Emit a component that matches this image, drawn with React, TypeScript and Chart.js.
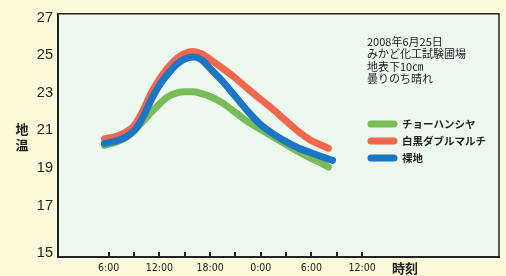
import { useEffect, useRef } from "react";
import { Chart, registerables } from "chart.js";
Chart.register(...registerables);

// ---- data ----
const hours = [5.5, 7, 8, 9, 10, 11, 12, 13, 14, 15, 16, 17, 18, 19.5, 21, 22.5, 24, 25.5, 27, 28.5, 30, 31, 32];
const blueHours = [5.5, 7, 8, 9, 10, 11, 12, 13, 14, 15, 16, 17, 18, 19.5, 21, 22.5, 24, 25.5, 27, 28.5, 30, 31.5, 32.5];
const seriesLabels = ["チョーハンシヤ", "白黒ダブルマルチ", "裸地"];
const greenValues = [20.2, 20.4, 20.62, 20.97, 21.45, 21.95, 22.4, 22.78, 22.98, 23.05, 23.05, 22.95, 22.8, 22.45, 21.95, 21.45, 21.05, 20.65, 20.25, 19.85, 19.5, 19.3, 19.05];
const redValues = [20.55, 20.7, 20.9, 21.25, 22.0, 22.95, 23.72, 24.33, 24.8, 25.1, 25.2, 25.08, 24.78, 24.3, 23.78, 23.2, 22.65, 22.1, 21.5, 20.93, 20.45, 20.25, 20.05];
const blueValues = [20.3, 20.45, 20.64, 20.98, 21.65, 22.6, 23.4, 24.0, 24.5, 24.8, 24.9, 24.75, 24.3, 23.6, 22.8, 22.0, 21.3, 20.8, 20.4, 20.05, 19.8, 19.55, 19.4];
const yTickValues = [15, 17, 19, 21, 23, 25, 27];
const xLabelHours = [6, 12, 18, 24, 30, 36];
const xMarkHours = [6, 9, 12, 15, 18, 21, 24, 27, 30, 33, 36];
const noteLines = ["2008年6月25日", "みかど化工試験圃場", "地表下10㎝", "曇りのち晴れ"];
const yTitle = ["地", "温"];
const xTitle = "時刻";

const colors = ["#78bb58", "#f2684f", "#1b76c6"];
const JP = "'Noto Sans CJK JP', 'Noto Sans', sans-serif";

// y-axis has a break near the bottom: the "15" label sits just above the axis
const Y_MIN = 14.26;
const Y_MAX = 27.21;
const Y_BREAK_VALUE = 14.47;

const decor = {
  id: "decor",
  beforeDraw(chart: any) {
    const { ctx, chartArea: a } = chart;
    ctx.save();
    ctx.fillStyle = "#edf9ef";
    ctx.fillRect(a.left, a.top, a.right - a.left, a.bottom - a.top);
    ctx.restore();
  },
  afterDraw(chart: any) {
    const { ctx, chartArea: a } = chart;
    const xs = chart.scales.x;
    ctx.save();
    // top & right border
    ctx.strokeStyle = "#222";
    ctx.lineWidth = 1.5;
    ctx.beginPath();
    ctx.moveTo(a.left, a.top);
    ctx.lineTo(a.right, a.top);
    ctx.lineTo(a.right, a.bottom);
    ctx.stroke();
    // inward tick marks
    ctx.lineWidth = 2;
    ctx.beginPath();
    xMarkHours.forEach((h) => {
      const px = Math.round(xs.getPixelForValue(h));
      ctx.moveTo(px, a.bottom);
      ctx.lineTo(px, a.bottom - 5);
    });
    ctx.stroke();
    // notes
    ctx.fillStyle = "#222";
    ctx.font = `11px ${JP}`;
    ctx.textBaseline = "middle";
    ctx.textAlign = "left";
    noteLines.forEach((t, i) => ctx.fillText(t, 367, 42 + i * 12.3));
    // legend
    chart.data.datasets.forEach((ds: any, i: number) => {
      const y = 124 + i * 17;
      ctx.strokeStyle = ds.borderColor;
      ctx.lineWidth = 7;
      ctx.lineCap = "round";
      ctx.beginPath();
      ctx.moveTo(371, y);
      ctx.lineTo(394, y);
      ctx.stroke();
      ctx.fillStyle = "#222";
      ctx.font = `bold 10.5px ${JP}`;
      ctx.fillText(ds.label, 402, y);
    });
    // axis titles
    ctx.font = `bold 13px ${JP}`;
    ctx.textAlign = "center";
    yTitle.forEach((c, i) => ctx.fillText(c, 22, 129 + i * 16));
    ctx.textAlign = "left";
    ctx.fillText(xTitle, 392, 268);
    ctx.restore();
  },
};

export default function App() {
  const ref = useRef<HTMLCanvasElement>(null);
  useEffect(() => {
    const mk = (xsArr: number[], ys: number[]) => xsArr.map((x, i) => ({ x, y: ys[i] }));
    const chart = new Chart(ref.current!, {
      type: "line",
      data: {
        datasets: [
          { label: seriesLabels[0], data: mk(hours, greenValues), borderColor: colors[0], order: 2 },
          { label: seriesLabels[1], data: mk(hours, redValues), borderColor: colors[1], order: 1 },
          { label: seriesLabels[2], data: mk(blueHours, blueValues), borderColor: colors[2], order: 0 },
        ].map((d) => ({
          ...d,
          borderWidth: 7,
          pointRadius: 0,
          cubicInterpolationMode: "monotone" as const,
          borderCapStyle: "round" as const,
          borderJoinStyle: "round" as const,
          fill: false,
        })),
      },
      options: {
        responsive: false,
        animation: false,
        layout: { padding: { top: 11, right: 7, left: 0, bottom: 0 } },
        plugins: { legend: { display: false }, tooltip: { enabled: false } },
        scales: {
          x: {
            type: "linear",
            min: 0,
            max: 52.2,
            afterFit: (s: any) => { s.height = 19; },
            afterBuildTicks: (s: any) => { s.ticks = xLabelHours.map((v) => ({ value: v })); },
            ticks: {
              autoSkip: false,
              maxRotation: 0,
              padding: 5,
              color: "#222",
              font: { family: "'Liberation Sans Narrow', 'DejaVu Sans Condensed', sans-serif", size: 10.5 },
              callback: (v: any) => `${Number(v) % 24}:00`,
            },
            grid: { display: true, drawOnChartArea: false, drawTicks: false },
            border: { color: "#222", width: 2 },
          },
          y: {
            min: Y_MIN,
            max: Y_MAX,
            afterFit: (s: any) => { s.width = 58; },
            afterBuildTicks: (s: any) => {
              s.ticks = yTickValues.map((v, i) => ({ value: i === 0 ? Y_BREAK_VALUE : v }));
            },
            ticks: {
              padding: 5,
              color: "#222",
              font: { family: "'Liberation Sans', Arial, sans-serif", size: 14.5 },
              callback: function (v: any, i: number) { return String(yTickValues[i]); },
            },
            grid: { display: true, drawOnChartArea: false, drawTicks: false },
            border: { color: "#222", width: 2 },
          },
        },
      },
      plugins: [decor],
    });
    return () => chart.destroy();
  }, []);
  return (
    <div style={{ position: "absolute", left: 0, top: 0, width: 506, height: 276, background: "#fdfadc" }}>
      <canvas ref={ref} width={506} height={276} style={{ display: "block" }} />
    </div>
  );
}
